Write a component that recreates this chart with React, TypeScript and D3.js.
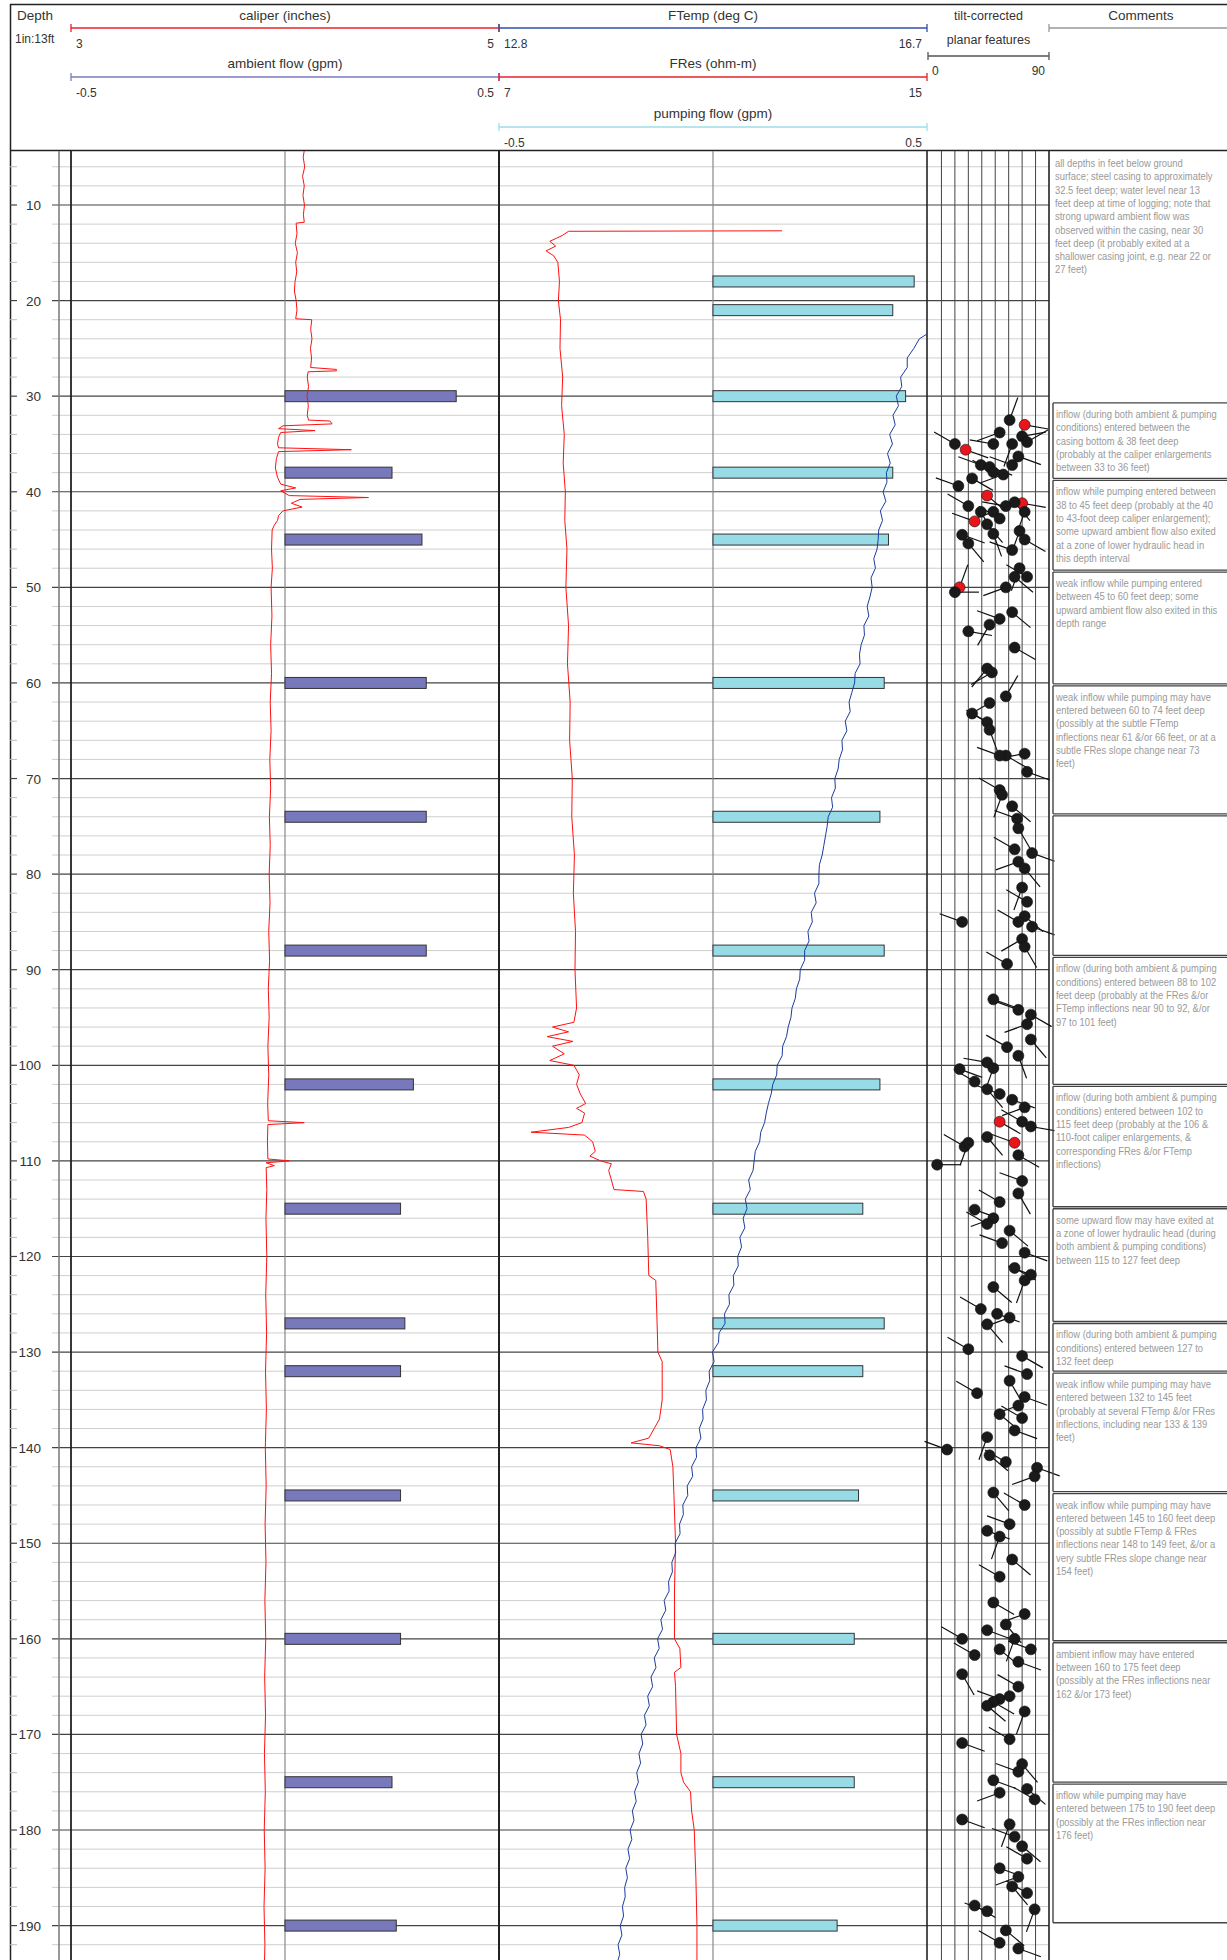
import React from 'react';
import * as d3 from 'd3';

const W = 1227;
const H = 1960;

// ---------- DATA ----------
const majorDepths = [10, 20, 30, 40, 50, 60, 70, 80, 90, 100, 110, 120, 130, 140, 150, 160, 170, 180, 190];

const ambientDepths = [30, 38, 45, 60, 74, 88, 102, 115, 127, 132, 145, 160, 175, 190];
const ambientFlow = [0.40, 0.25, 0.32, 0.33, 0.33, 0.33, 0.30, 0.27, 0.28, 0.27, 0.27, 0.27, 0.25, 0.26];

const pumpingDepths = [18, 21, 30, 38, 45, 60, 74, 88, 102, 115, 127, 132, 145, 160, 175, 190];
const pumpingFlow = [0.47, 0.42, 0.45, 0.42, 0.41, 0.40, 0.39, 0.40, 0.39, 0.35, 0.40, 0.35, 0.34, 0.33, 0.33, 0.29];

// caliper (inches) [depth, value]
const caliper: [number, number][] = [
  [4.3, 4.09], [5, 4.085], [6, 4.092], [7, 4.082], [8, 4.09], [9, 4.084], [10, 4.091], [11, 4.086], [11.8, 4.09],
  [11.9, 4.052], [13, 4.056], [14, 4.048], [15, 4.058], [16, 4.05], [17, 4.055], [18, 4.047], [19, 4.044], [20, 4.052], [21, 4.056], [21.9, 4.05],
  [22, 4.125], [23, 4.12], [24, 4.126], [25, 4.119], [26, 4.124], [27, 4.12], [27.2, 4.24], [27.35, 4.24], [27.45, 4.108],
  [28, 4.104], [29, 4.11], [30, 4.103], [31, 4.109], [32, 4.104], [32.5, 4.11],
  [32.6, 4.21], [32.9, 4.22], [33.1, 3.99], [33.4, 3.97], [33.6, 4.14], [33.8, 3.98], [34.3, 3.97], [35, 3.965],
  [35.4, 3.97], [35.6, 4.31], [35.8, 3.97], [36.5, 3.96], [37.5, 3.955], [38.5, 3.965], [39.2, 3.98], [39.6, 4.05],
  [39.9, 3.98], [40.4, 4.02], [40.6, 4.39], [40.8, 4.07], [41.2, 4.03], [41.6, 4.08], [42, 3.99], [42.5, 3.97],
  [43, 3.965], [43.5, 3.95], [44, 3.94], [46, 3.937], [48, 3.941], [50, 3.935], [53, 3.939], [56, 3.933], [59, 3.937],
  [62, 3.931], [65, 3.935], [68, 3.929], [71, 3.933], [74, 3.927], [77, 3.931], [80, 3.926], [83, 3.93], [86, 3.924],
  [89, 3.928], [92, 3.922], [95, 3.926], [98, 3.92], [101, 3.924], [104, 3.919], [105.8, 3.922], [106, 4.09],
  [106.2, 3.92], [108, 3.918], [109.8, 3.92], [110, 4.02], [110.2, 3.912], [110.5, 3.95], [110.7, 3.912], [113, 3.915],
  [116, 3.911], [120, 3.915], [124, 3.91], [128, 3.914], [132, 3.909], [136, 3.913], [140, 3.908], [144, 3.912],
  [148, 3.907], [152, 3.911], [156, 3.906], [160, 3.91], [164, 3.905], [168, 3.909], [172, 3.904], [176, 3.908],
  [180, 3.903], [184, 3.907], [188, 3.902], [192, 3.906], [194, 3.904],
];

// FRes (ohm-m) [depth, value]
const fres: [number, number][] = [
  [12.7, 12.29], [12.75, 8.3], [13.2, 8.18], [13.8, 7.95], [14.3, 8.06], [14.8, 7.88], [15.3, 8.02], [16, 8.1],
  [18, 8.13], [20, 8.11], [22, 8.15], [25, 8.14], [28, 8.19], [31, 8.17], [34, 8.22], [37, 8.2], [40, 8.24],
  [43, 8.23], [46, 8.27], [50, 8.25], [54, 8.3], [58, 8.28], [62, 8.33], [66, 8.32], [70, 8.37], [74, 8.36],
  [78, 8.41], [82, 8.39], [86, 8.43], [90, 8.42], [94, 8.45], [95.5, 8.4], [96, 8.0], [96.5, 8.3], [97, 7.9],
  [97.5, 8.38], [98, 8.0], [98.8, 8.22], [99.5, 7.95], [100, 8.4], [101, 8.5], [102, 8.45], [103, 8.52], [104, 8.62],
  [104.5, 8.45], [105, 8.6], [106, 8.55], [106.5, 8.3], [107, 7.6], [107.3, 8.6], [108, 8.75], [109, 8.8], [109.5, 8.7],
  [110, 8.9], [110.3, 9.1], [111, 9.05], [112, 9.1], [113, 9.15], [113.2, 9.7], [114, 9.75], [118, 9.78], [122, 9.8],
  [122.5, 9.93], [126, 9.95], [130, 9.97], [131, 10.05], [135, 10.05], [137, 10.0], [138, 9.9], [139, 9.8],
  [139.5, 9.47], [139.8, 10.0], [140.2, 10.2], [142, 10.25], [145, 10.27], [150, 10.3], [155, 10.28], [160, 10.28],
  [161, 10.38], [163, 10.4], [163.5, 10.28], [165, 10.3], [170, 10.32], [172, 10.4], [174, 10.4], [175, 10.45],
  [176, 10.58], [178, 10.6], [180, 10.65], [185, 10.68], [190, 10.7], [194, 10.7],
];

// FTemp (deg C) [depth, value]
const ftemp: [number, number][] = [
  [23.5, 16.7], [24, 16.63], [25, 16.58], [26, 16.52], [27, 16.52], [28, 16.46], [29, 16.47], [30, 16.42], [31, 16.44],
  [32, 16.39], [33, 16.41], [34, 16.36], [35, 16.385], [36, 16.34], [37, 16.365], [38, 16.33], [39, 16.335], [40, 16.3],
  [41, 16.325], [42, 16.275], [43, 16.295], [44, 16.26], [45, 16.255], [46, 16.245], [47, 16.215], [48, 16.23], [49, 16.19],
  [50, 16.2], [51, 16.18], [52, 16.155], [53, 16.17], [54, 16.125], [55, 16.13], [56, 16.1], [57, 16.085], [58, 16.09],
  [59, 16.045], [60, 16.04], [61, 16.015], [62, 15.99], [63, 16.0], [64, 15.955], [65, 15.97], [66, 15.925], [67, 15.93],
  [68, 15.9], [69, 15.89], [70, 15.86], [71, 15.865], [72, 15.83], [73, 15.84], [74, 15.8], [75, 15.79], [76, 15.775],
  [77, 15.76], [78, 15.745], [79, 15.72], [80, 15.715], [81, 15.715], [82, 15.675], [83, 15.69], [84, 15.645], [85, 15.655],
  [86, 15.615], [87, 15.625], [88, 15.585], [89, 15.585], [90, 15.545], [91, 15.54], [92, 15.51], [93, 15.5], [94, 15.47],
  [95, 15.46], [96, 15.435], [97, 15.42], [98, 15.385], [99, 15.38], [100, 15.335], [101, 15.33], [102, 15.295], [103, 15.28],
  [104, 15.255], [105, 15.235], [106, 15.22], [107, 15.185], [108, 15.175], [109, 15.135], [110, 15.125], [111, 15.115],
  [112, 15.075], [113, 15.09], [114, 15.045], [115, 15.06], [116, 15.025], [117, 15.04], [118, 14.995], [119, 15.01],
  [120, 14.975], [121, 14.98], [122, 14.935], [123, 14.94], [124, 14.895], [125, 14.9], [126, 14.855], [127, 14.86],
  [128, 14.805], [129, 14.8], [130, 14.745], [131, 14.76], [132, 14.715], [133, 14.72], [134, 14.685], [135, 14.69],
  [136, 14.655], [137, 14.66], [138, 14.625], [139, 14.64], [140, 14.595], [141, 14.6], [142, 14.555], [143, 14.565],
  [144, 14.515], [145, 14.52], [146, 14.475], [147, 14.48], [148, 14.445], [149, 14.45], [150, 14.405], [151, 14.41],
  [152, 14.375], [153, 14.38], [154, 14.345], [155, 14.35], [156, 14.305], [157, 14.32], [158, 14.275], [159, 14.29],
  [160, 14.245], [161, 14.26], [162, 14.215], [163, 14.23], [164, 14.185], [165, 14.2], [166, 14.155], [167, 14.17],
  [168, 14.125], [169, 14.14], [170, 14.095], [171, 14.11], [172, 14.075], [173, 14.09], [174, 14.055], [175, 14.07],
  [176, 14.035], [177, 14.05], [178, 14.015], [179, 14.03], [180, 13.995], [181, 14.01], [182, 13.975], [183, 13.99],
  [184, 13.955], [185, 13.97], [186, 13.945], [187, 13.95], [188, 13.925], [189, 13.935], [190, 13.905], [191, 13.92],
  [192, 13.885], [193, 13.9], [194, 13.875],
];

// tilt-corrected planar features [depth, dip, azimuth, highlighted]
const planarFeatures: [number, number, number, number][] = [
  [32.5, 60.7, 20, 0], [33.0, 71.9, 100, 1], [33.8, 53.3, 250, 0], [34.2, 70.0, 80, 0], [35.0, 20.0, 300, 0],
  [35.0, 48.6, 280, 0], [35.6, 28.0, 110, 1], [35.0, 62.6, 200, 0], [34.8, 73.7, 60, 0], [37.2, 39.3, 290, 0],
  [37.4, 45.8, 110, 0], [37.95, 48.6, 300, 0], [38.6, 32.8, 120, 0], [38.2, 56.0, 250, 0], [37.2, 62.6, 290, 0],
  [36.3, 67.2, 110, 0], [39.4, 22.6, 290, 0], [40.4, 44.0, 130, 1], [41.2, 70.0, 100, 1], [41.5, 30.0, 300, 0],
  [42.1, 39.3, 150, 0], [42.1, 48.6, 250, 0], [41.5, 57.9, 280, 0], [41.1, 64.4, 140, 0], [42.1, 71.9, 200, 0],
  [43.1, 34.7, 290, 1], [43.4, 44.0, 140, 0], [42.8, 53.3, 300, 0], [44.5, 25.4, 110, 0], [45.4, 30.0, 140, 0],
  [44.1, 68.1, 200, 0], [45.0, 71.9, 120, 0], [44.4, 48.6, 160, 0], [46.1, 62.6, 290, 0], [48.0, 68.1, 200, 0],
  [48.9, 64.4, 130, 0], [50.0, 23.5, 20, 1], [50.5, 20.0, 90, 0], [48.9, 73.7, 300, 0], [50.0, 57.9, 250, 0],
  [52.6, 62.6, 130, 0], [53.9, 45.8, 210, 0], [54.6, 30.0, 100, 0], [53.3, 53.3, 290, 0], [56.3, 64.4, 120, 0],
  [58.5, 44.0, 220, 0], [58.9, 47.5, 240, 0], [61.4, 57.9, 30, 0], [62.1, 45.8, 240, 0], [63.2, 32.8, 120, 0],
  [64.1, 44.0, 300, 0], [64.9, 45.8, 160, 0], [67.6, 57.9, 120, 0], [67.6, 53.3, 290, 0], [67.4, 71.9, 260, 0],
  [69.3, 73.7, 110, 0], [71.2, 53.3, 300, 0], [71.7, 55.1, 200, 0], [72.9, 62.6, 130, 0], [74.2, 66.3, 290, 0],
  [75.2, 67.2, 150, 0], [77.4, 64.4, 300, 0], [77.8, 77.4, 110, 0], [78.7, 67.2, 250, 0], [79.4, 71.9, 140, 0],
  [81.4, 70.0, 200, 0], [82.9, 73.7, 300, 0], [84.4, 71.9, 130, 0], [85.0, 25.4, 290, 0], [85.0, 67.2, 300, 0],
  [85.5, 77.4, 110, 0], [86.8, 70.0, 240, 0], [87.6, 71.9, 150, 0], [89.4, 58.8, 300, 0], [93.1, 48.6, 110, 0],
  [94.2, 67.2, 290, 0], [94.7, 76.5, 120, 0], [95.7, 73.7, 250, 0], [97.3, 76.5, 140, 0], [98.1, 58.8, 300, 0],
  [99.0, 67.2, 160, 0], [99.7, 44.0, 280, 0], [100.4, 23.5, 110, 0], [100.3, 48.6, 200, 0], [101.7, 34.7, 300, 0],
  [102.5, 44.0, 140, 0], [103.0, 53.3, 290, 0], [103.6, 62.6, 110, 0], [104.4, 71.9, 250, 0], [105.9, 70.0, 300, 0],
  [106.4, 76.5, 100, 0], [105.9, 53.3, 120, 1], [108.1, 64.4, 290, 1], [107.5, 44.0, 140, 0], [108.5, 27.2, 300, 0],
  [110.4, 6.8, 90, 0], [108.1, 30.0, 200, 0], [109.4, 67.2, 120, 0], [112.1, 70.0, 290, 0], [113.4, 67.2, 150, 0],
  [114.3, 53.3, 300, 0], [115.1, 34.7, 110, 0], [116.0, 48.6, 250, 0], [117.3, 60.7, 130, 0], [118.6, 55.1, 290, 0],
  [119.6, 71.9, 110, 0], [116.6, 44.0, 300, 0], [121.2, 64.4, 120, 0], [121.9, 76.5, 290, 0], [122.5, 71.9, 200, 0],
  [123.2, 48.6, 130, 0], [125.5, 39.3, 300, 0], [126.0, 51.4, 110, 0], [126.4, 60.7, 250, 0], [127.1, 44.0, 140, 0],
  [129.7, 30.0, 300, 0], [130.4, 70.0, 120, 0], [132.3, 73.7, 290, 0], [133.0, 60.7, 150, 0], [134.3, 36.5, 300, 0],
  [134.7, 71.9, 110, 0], [135.6, 67.2, 250, 0], [136.5, 53.3, 130, 0], [136.9, 70.0, 300, 0], [138.2, 64.4, 110, 0],
  [138.9, 44.0, 200, 0], [140.2, 14.2, 290, 0], [140.8, 45.8, 130, 0], [141.5, 57.9, 300, 0], [142.1, 81.1, 110, 0],
  [143.0, 79.3, 250, 0], [144.7, 48.6, 140, 0], [146.0, 71.9, 300, 0], [148.7, 44.0, 110, 0], [149.3, 53.3, 200, 0],
  [148.0, 60.7, 290, 0], [151.7, 62.6, 130, 0], [153.5, 53.3, 300, 0], [156.2, 48.6, 120, 0], [157.4, 71.9, 250, 0],
  [158.5, 57.9, 140, 0], [160.0, 25.4, 300, 0], [159.1, 44.0, 110, 0], [160.0, 64.4, 200, 0], [161.1, 76.5, 290, 0],
  [161.1, 53.3, 130, 0], [161.7, 34.7, 300, 0], [162.4, 67.2, 110, 0], [163.7, 25.4, 150, 0], [166.3, 53.3, 290, 0],
  [166.6, 48.6, 120, 0], [166.0, 60.7, 250, 0], [165.0, 67.2, 300, 0], [167.0, 44.0, 130, 0], [167.6, 71.9, 200, 0],
  [170.9, 25.4, 110, 0], [170.5, 60.7, 300, 0], [173.1, 70.0, 140, 0], [173.9, 67.2, 290, 0], [174.8, 48.6, 110, 0],
  [176.1, 53.3, 250, 0], [175.7, 73.7, 130, 0], [176.8, 79.3, 300, 0], [178.9, 25.4, 110, 0], [179.4, 60.7, 200, 0],
  [180.7, 64.4, 290, 0], [181.7, 70.0, 130, 0], [183.0, 73.7, 300, 0], [184.0, 53.3, 110, 0], [184.9, 67.2, 250, 0],
  [185.9, 62.6, 140, 0], [186.6, 73.7, 300, 0], [187.9, 34.7, 120, 0], [188.5, 44.0, 290, 0], [190.5, 57.9, 130, 0],
  [188.3, 79.3, 200, 0], [191.8, 53.3, 300, 0], [192.4, 67.2, 110, 0],
];

// comment boxes (depth of top / bottom edges)
const commentTop = [30.6, 38.7, 48.3, 60.2, 73.8, 88.6, 102.1, 114.9, 126.9, 132.1, 144.7, 160.3, 175.1];
const commentBottom = [38.7, 48.3, 60.2, 73.8, 88.6, 102.1, 114.9, 126.9, 132.1, 144.7, 160.3, 175.1, 189.8];
const commentLines: string[][] = [
  ['inflow (during both ambient & pumping', 'conditions) entered between the', 'casing bottom & 38 feet deep', '(probably at the caliper enlargements', 'between 33 to 36 feet)'],
  ['inflow while pumping entered between', '38 to 45 feet deep (probably at the 40', 'to 43-foot deep caliper enlargement);', 'some upward ambient flow also exited', 'at a zone of lower hydraulic head in', 'this depth interval'],
  ['weak inflow while pumping entered', 'between 45 to 60 feet deep; some', 'upward ambient flow also exited in this', 'depth range'],
  ['weak inflow while pumping may have', 'entered between 60 to 74 feet deep', '(possibly at the subtle FTemp', 'inflections near 61 &/or 66 feet, or at a', 'subtle FRes slope change near 73', 'feet)'],
  [],
  ['inflow (during both ambient & pumping', 'conditions) entered between 88 to 102', 'feet deep (probably at the FRes &/or', 'FTemp inflections near 90 to 92, &/or', '97 to 101 feet)'],
  ['inflow (during both ambient & pumping', 'conditions) entered between 102 to', '115 feet deep (probably at the 106 &', '110-foot caliper enlargements, &', 'corresponding FRes &/or FTemp', 'inflections)'],
  ['some upward flow may have exited at', 'a zone of lower hydraulic head (during', 'both ambient & pumping conditions)', 'between 115 to 127 feet deep'],
  ['inflow (during both ambient & pumping', 'conditions) entered between 127 to', '132 feet deep'],
  ['weak inflow while pumping may have', 'entered between 132 to 145 feet', '(probably at several FTemp &/or FRes', 'inflections, including near 133 & 139', 'feet)'],
  ['weak inflow while pumping may have', 'entered between 145 to 160 feet deep', '(possibly at subtle FTemp & FRes', 'inflections near 148 to 149 feet, &/or a', 'very subtle FRes slope change near', '154 feet)'],
  ['ambient inflow may have entered', 'between 160 to 175 feet deep', '(possibly at the FRes inflections near', '162 &/or 173 feet)'],
  ['inflow while pumping may have', 'entered between 175 to 190 feet deep', '(possibly at the FRes inflection near', '176 feet)'],
];
const introComment = [
  'all depths in feet below ground', 'surface; steel casing to approximately', '32.5 feet deep; water level near 13',
  'feet deep at time of logging; note that', 'strong upward ambient flow was', 'observed within the casing, near 30',
  'feet deep (it probably exited at a', 'shallower casing joint, e.g. near 22 or', '27 feet)',
];

// ---------- LAYOUT ----------
const PLOT_TOP = 151;
const T1 = [71, 499];
const T2 = [499, 927];
const TT = [928, 1049];
const C0 = 1049;

const y = d3.scaleLinear().domain([10, 190]).range([205, 1925.6]);
const caliperX = d3.scaleLinear().domain([3, 5]).range(T1);
const ambientX = d3.scaleLinear().domain([-0.5, 0.5]).range(T1);
const ftempX = d3.scaleLinear().domain([12.8, 16.7]).range(T2);
const fresX = d3.scaleLinear().domain([7, 15]).range(T2);
const pumpX = d3.scaleLinear().domain([-0.5, 0.5]).range(T2);
const dipX = d3.scaleLinear().domain([0, 90]).range(TT);

const FONT = "'Liberation Sans', Arial, sans-serif";

function HeaderAxis({ x0, x1, yy, color, title, lo, hi, titleY }: any) {
  return (
    <g>
      <text x={(x0 + x1) / 2} y={titleY} textAnchor="middle" fontSize={13.5} fill="#333" fontFamily={FONT}>{title}</text>
      <line x1={x0} x2={x1} y1={yy} y2={yy} stroke={color} strokeWidth={1.3} />
      <line x1={x0} x2={x0} y1={yy - 4} y2={yy + 4} stroke={color} strokeWidth={1.3} />
      <line x1={x1} x2={x1} y1={yy - 4} y2={yy + 4} stroke={color} strokeWidth={1.3} />
      <text x={x0 + 5} y={yy + 20} fontSize={12} fill="#333" fontFamily={FONT}>{lo}</text>
      <text x={x1 - 5} y={yy + 20} fontSize={12} fill="#333" textAnchor="end" fontFamily={FONT}>{hi}</text>
    </g>
  );
}

function NarrowText({ x, yy, s }: { x: number; yy: number; s: string }) {
  return (
    <text transform={`translate(${x},${yy}) scale(0.82,1)`} fontSize={11.5} fill="#9a9a9a" fontFamily={FONT}>{s}</text>
  );
}

export default function App() {
  const minorDepths = d3.range(6, 194, 2).filter((d) => d % 10 !== 0);
  const lineGen = (sx: any) =>
    d3.line<[number, number]>().x((d) => sx(d[1])).y((d) => y(d[0]));

  return (
    <svg width={W} height={H} style={{ position: 'absolute', left: 0, top: 0, background: '#fff' }}>
      <defs>
        <clipPath id="plotClip">
          <rect x={0} y={PLOT_TOP} width={W} height={H - PLOT_TOP} />
        </clipPath>
        <clipPath id="t2Clip">
          <rect x={T2[0]} y={PLOT_TOP} width={T2[1] - T2[0] + 1} height={H - PLOT_TOP} />
        </clipPath>
      </defs>
      <rect x={0} y={0} width={W} height={H} fill="#fff" />

      {/* ---- header ---- */}
      <line x1={10} x2={W} y1={4.5} y2={4.5} stroke="#222" strokeWidth={1.5} />
      <line x1={10.5} x2={10.5} y1={4} y2={H} stroke="#222" strokeWidth={1.5} />
      <line x1={10} x2={W} y1={150.5} y2={150.5} stroke="#222" strokeWidth={1.6} />
      <text x={17} y={20} fontSize={13.5} fill="#333" fontFamily={FONT}>Depth</text>
      <text x={15} y={43} fontSize={12} fill="#333" fontFamily={FONT}>1in:13ft</text>

      <HeaderAxis x0={T1[0]} x1={T1[1]} yy={28} titleY={20} color="#e8202a" title="caliper (inches)" lo="3" hi="5" />
      <HeaderAxis x0={T1[0]} x1={T1[1]} yy={77} titleY={68} color="#7a7ac0" title="ambient flow (gpm)" lo="-0.5" hi="0.5" />
      <HeaderAxis x0={T2[0]} x1={T2[1]} yy={28} titleY={20} color="#3050a8" title="FTemp (deg C)" lo="12.8" hi="16.7" />
      <HeaderAxis x0={T2[0]} x1={T2[1]} yy={77} titleY={68} color="#e8202a" title="FRes (ohm-m)" lo="7" hi="15" />
      <HeaderAxis x0={T2[0]} x1={T2[1]} yy={127} titleY={118} color="#9fdde8" title="pumping flow (gpm)" lo="-0.5" hi="0.5" />

      <text x={(TT[0] + TT[1]) / 2} y={20} textAnchor="middle" fontSize={12.5} fill="#333" fontFamily={FONT}>tilt-corrected</text>
      <text x={(TT[0] + TT[1]) / 2} y={44} textAnchor="middle" fontSize={12.5} fill="#333" fontFamily={FONT}>planar features</text>
      <line x1={TT[0]} x2={TT[1]} y1={56} y2={56} stroke="#555" strokeWidth={1.3} />
      <line x1={TT[0]} x2={TT[0]} y1={52} y2={60} stroke="#555" strokeWidth={1.3} />
      <line x1={TT[1]} x2={TT[1]} y1={52} y2={60} stroke="#555" strokeWidth={1.3} />
      <text x={TT[0] + 4} y={75} fontSize={12} fill="#333" fontFamily={FONT}>0</text>
      <text x={TT[1] - 4} y={75} fontSize={12} fill="#333" textAnchor="end" fontFamily={FONT}>90</text>

      <text x={1141} y={20} textAnchor="middle" fontSize={13.5} fill="#333" fontFamily={FONT}>Comments</text>
      <line x1={C0} x2={W} y1={28} y2={28} stroke="#999" strokeWidth={1.3} />
      <line x1={C0} x2={C0} y1={24} y2={32} stroke="#999" strokeWidth={1.3} />

      {/* ---- grid ---- */}
      <g clipPath="url(#plotClip)">
        {minorDepths.map((d) => (
          <g key={'mn' + d}>
            <line x1={10} x2={17} y1={y(d)} y2={y(d)} stroke="#bbb" strokeWidth={1} />
            <line x1={52} x2={C0} y1={y(d)} y2={y(d)} stroke="#cfcfcf" strokeWidth={1} />
          </g>
        ))}
        {majorDepths.map((d) => (
          <g key={'mj' + d}>
            <line x1={10} x2={17} y1={y(d)} y2={y(d)} stroke="#444" strokeWidth={1.2} />
            <line x1={52} x2={C0} y1={y(d)} y2={y(d)} stroke="#444" strokeWidth={1.2} />
            <text x={41} y={y(d) + 5} textAnchor="end" fontSize={13.5} fill="#333" fontFamily={FONT}>{d}</text>
          </g>
        ))}
      </g>

      {/* vertical lines */}
      <line x1={59} x2={59} y1={PLOT_TOP} y2={H} stroke="#777" strokeWidth={1.5} />
      <line x1={T1[0]} x2={T1[0]} y1={PLOT_TOP} y2={H} stroke="#222" strokeWidth={1.8} />
      <line x1={ambientX(0)} x2={ambientX(0)} y1={PLOT_TOP} y2={H} stroke="#888" strokeWidth={1.2} />
      <line x1={T1[1]} x2={T1[1]} y1={PLOT_TOP} y2={H} stroke="#222" strokeWidth={2} />
      <line x1={pumpX(0)} x2={pumpX(0)} y1={PLOT_TOP} y2={H} stroke="#888" strokeWidth={1.2} />
      <line x1={T2[1]} x2={T2[1]} y1={PLOT_TOP} y2={H} stroke="#222" strokeWidth={1.6} />
      {d3.range(10, 90, 10).map((v) => (
        <line key={'tv' + v} x1={dipX(v)} x2={dipX(v)} y1={PLOT_TOP} y2={H} stroke="#444" strokeWidth={1} />
      ))}
      <line x1={C0} x2={C0} y1={PLOT_TOP} y2={H} stroke="#222" strokeWidth={1.6} />

      {/* ---- bars ---- */}
      {ambientDepths.map((d, i) => (
        <rect key={'ab' + i} x={ambientX(0)} y={y(d) - 5.5} width={ambientX(ambientFlow[i]) - ambientX(0)} height={11}
          fill="#7878bc" stroke="#333" strokeWidth={1} />
      ))}
      {pumpingDepths.map((d, i) => (
        <rect key={'pb' + i} x={pumpX(0)} y={y(d) - 5.5} width={pumpX(pumpingFlow[i]) - pumpX(0)} height={11}
          fill="#96dbe6" stroke="#333" strokeWidth={1} />
      ))}

      {/* ---- curves ---- */}
      <g clipPath="url(#plotClip)">
        <path d={lineGen(caliperX)(caliper) || ''} fill="none" stroke="#ff1010" strokeWidth={1} />
      </g>
      <g clipPath="url(#t2Clip)">
        <path d={lineGen(fresX)(fres) || ''} fill="none" stroke="#ff1010" strokeWidth={1} />
        <path d={lineGen(ftempX)(ftemp) || ''} fill="none" stroke="#1c3c9c" strokeWidth={1} />
      </g>

      {/* ---- tadpoles ---- */}
      <g clipPath="url(#plotClip)">
        {planarFeatures.map(([d, dip, az], i) => {
          const cx = dipX(dip);
          const cy = y(d);
          const L = 24;
          const a = (az * Math.PI) / 180;
          return (
            <line key={'tl' + i} x1={cx} y1={cy} x2={cx + L * Math.sin(a)} y2={cy - L * Math.cos(a)} stroke="#111" strokeWidth={1.2} />
          );
        })}
        {planarFeatures.map(([d, dip, , hl], i) => (
          <circle key={'tc' + i} cx={dipX(dip)} cy={y(d)} r={5.5} fill={hl ? '#e8151b' : '#1a1a1a'} stroke="#111" strokeWidth={0.6} />
        ))}
      </g>

      {/* ---- comments ---- */}
      {introComment.map((s, i) => (
        <NarrowText key={'ic' + i} x={1055} yy={167 + i * 13.3} s={s} />
      ))}
      {commentTop.map((t, i) => {
        const yt = y(t);
        const yb = y(commentBottom[i]);
        return (
          <g key={'cb' + i}>
            <line x1={1053} x2={W} y1={yt + 1} y2={yt + 1} stroke="#444" strokeWidth={1.4} />
            <line x1={1053} x2={W} y1={yb - 1} y2={yb - 1} stroke="#444" strokeWidth={1.4} />
            <line x1={1053} x2={1053} y1={yt + 1} y2={yb - 1} stroke="#444" strokeWidth={1.4} />
            {commentLines[i].map((s, j) => (
              <NarrowText key={j} x={1056} yy={yt + 16 + j * 13.3} s={s} />
            ))}
          </g>
        );
      })}
    </svg>
  );
}
